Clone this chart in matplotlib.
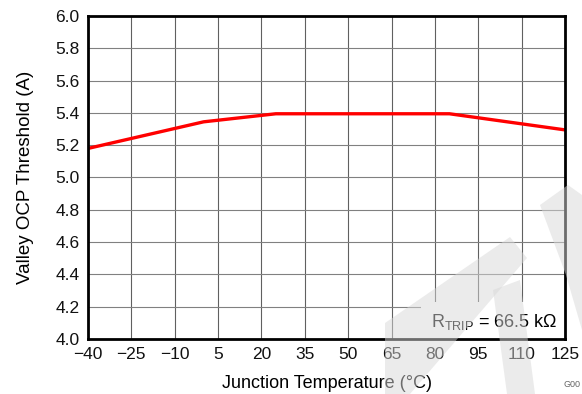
import matplotlib

matplotlib.use("Agg")
import matplotlib.pyplot as plt
from matplotlib.patches import Polygon

plt.rcParams["font.family"] = ["Liberation Sans", "DejaVu Sans"]

# data
temperature = [-40, 0, 25, 85, 125]
valley_ocp = [5.18, 5.345, 5.395, 5.395, 5.295]

x_ticks = [-40, -25, -10, 5, 20, 35, 50, 65, 80, 95, 110, 125]
y_ticks = [4.0, 4.2, 4.4, 4.6, 4.8, 5.0, 5.2, 5.4, 5.6, 5.8, 6.0]

fig = plt.figure(figsize=(5.82, 3.94), dpi=100)
ax = fig.add_axes([0.151, 0.140, 0.820, 0.819])

ax.plot(temperature, valley_ocp, color="#ff0000", linewidth=2.4, zorder=3)

ax.set_xlim(-40, 125)
ax.set_ylim(4.0, 6.0)
ax.set_xticks(x_ticks)
ax.set_yticks(y_ticks)
ax.set_yticklabels([f"{v:.1f}" for v in y_ticks])
ax.tick_params(length=0, labelsize=12.5, pad=6, colors="#111111")
ax.grid(True, axis="x", color="#606060", linewidth=0.8)
ax.grid(True, axis="y", color="#808080", linewidth=0.8)
ax.set_axisbelow(True)
for spine in ax.spines.values():
    spine.set_linewidth(2.0)
    spine.set_zorder(6)

ax.set_xlabel("Junction Temperature (°C)", fontsize=13, labelpad=9)
ax.set_ylabel("Valley OCP Threshold (A)", fontsize=13.5, labelpad=15)

ax.text(
    0.985, 0.022, r"R$_{\mathregular{TRIP}}$ = 66.5 kΩ",
    transform=ax.transAxes, ha="right", va="bottom", fontsize=13,
    bbox={"boxstyle": "square,pad=0.55", "fc": "white", "ec": "none"}, zorder=4,
)

fig.text(563 / 582, 5 / 394, "G00", fontsize=6.5, color="#666666", ha="left", va="bottom")

# rough version of the faint watermark in the lower right corner
W, H = 582, 394
shapes = [
    [(385, 323), (510, 237), (527, 258), (410, 394), (385, 394)],
    [(493, 290), (520, 280), (535, 394), (507, 394)],
    [(540, 205), (568, 185), (582, 195), (582, 330), (566, 275)],
]
for pts in shapes:
    poly = Polygon([(px / W, 1 - py / H) for px, py in pts], closed=True,
                   transform=fig.transFigure, facecolor="#d8d8d8", edgecolor="none",
                   alpha=0.5, zorder=10)
    fig.patches.append(poly)

fig.savefig("out.png", dpi=100)
